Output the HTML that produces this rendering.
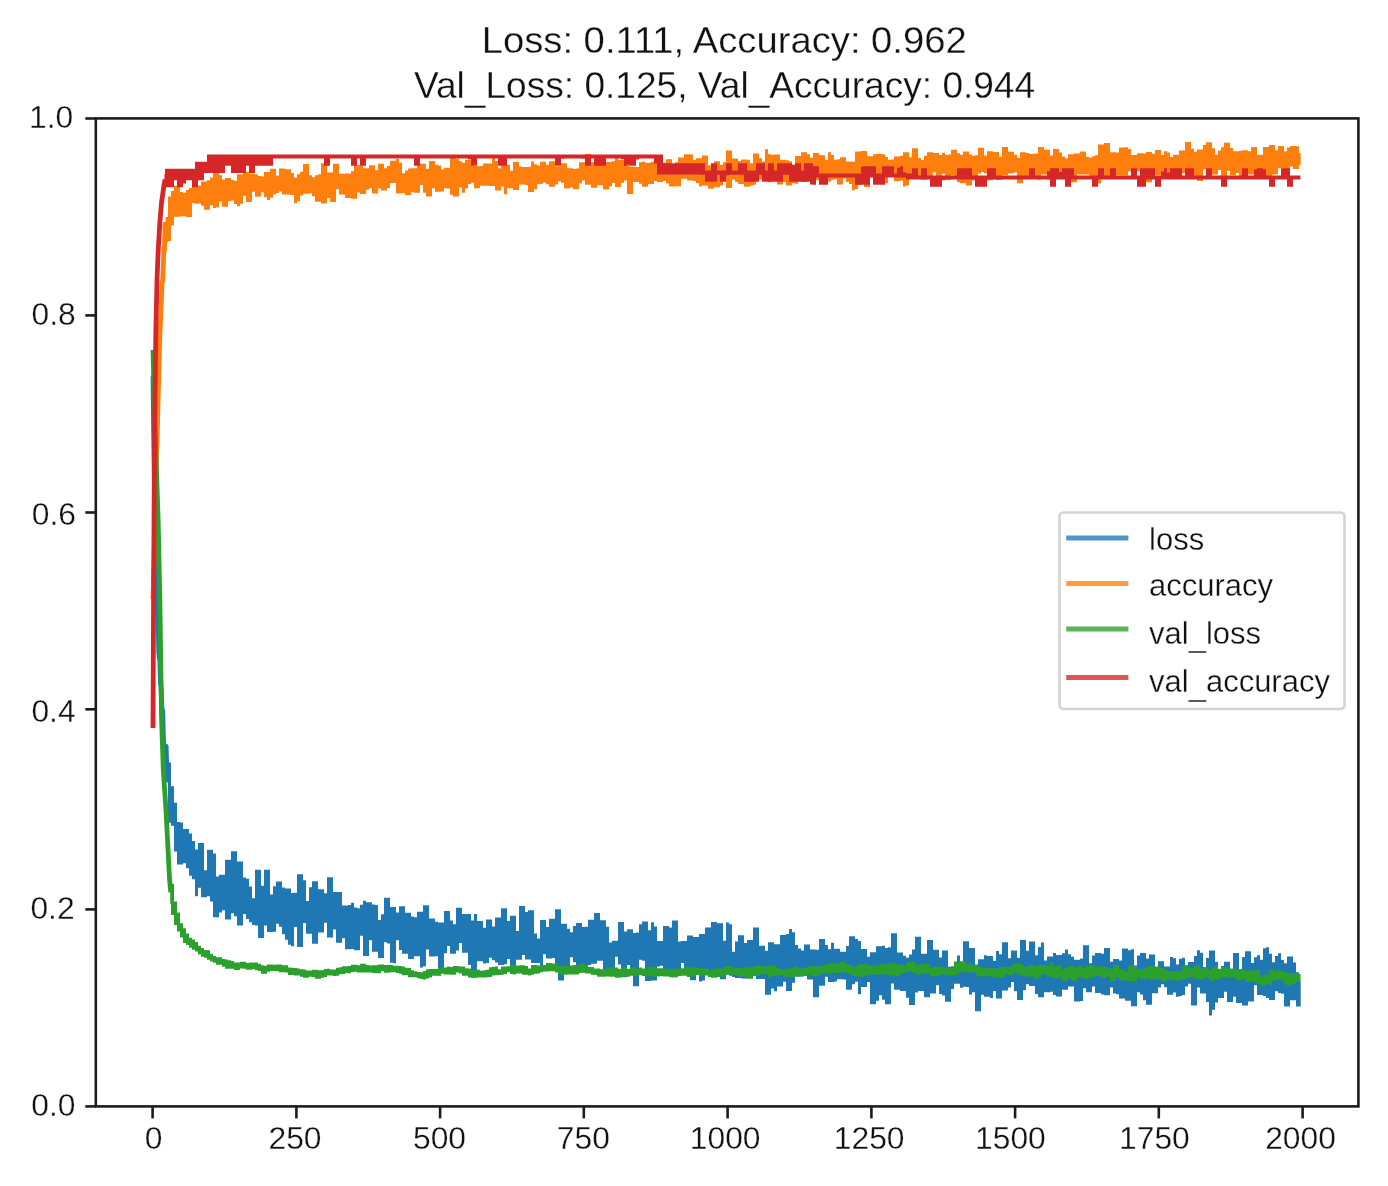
<!DOCTYPE html><html><head><meta charset="utf-8"><style>html,body{margin:0;padding:0;background:#fff;overflow:hidden;width:1388px;height:1186px;}svg{display:block;filter:blur(0.45px);}text{font-family:"Liberation Sans",sans-serif;fill:#111;stroke:#fff;stroke-width:0.3px;paint-order:fill;}</style></head><body>
<svg width="1388" height="1186" viewBox="0 0 1388 1186">
<rect width="1388" height="1186" fill="#fff"/>
<defs><clipPath id="ax"><rect x="95.8" y="118.4" width="1262.6" height="988.0"/></clipPath></defs>
<g clip-path="url(#ax)" stroke="none">
<polyline fill="none" stroke="#1f77b4" stroke-width="4.8" stroke-linejoin="round" points="153.00,375.72 153.57,426.43 154.15,468.05 154.72,504.34 155.29,539.78 155.86,557.63 156.44,575.19 157.01,602.49 157.58,614.84 158.16,617.92 158.73,651.27 159.30,657.56 159.88,660.71 160.45,682.99 161.02,686.96 161.59,699.58 162.17,715.81 162.74,710.21 163.31,734.73 163.89,749.42 164.46,756.66 165.03,749.15 165.61,766.56 166.18,746.42 166.75,767.10 167.32,779.43 167.90,764.80 168.47,782.40"/>
<path fill="#1f77b4" d="M167.90,762.50H168.00V762.50H171.00V786.19H174.00V802.69H177.00V822.00H180.00V822.52H183.00V828.89H186.00V828.89H189.00V833.59H192.00V840.95H195.00V849.38H198.00V843.01H201.00V843.01H204.00V870.33H207.00V849.74H210.00V849.74H213.00V853.40H216.00V876.57H219.00V874.86H222.00V874.86H225.00V859.70H228.00V859.70H231.00V851.35H234.00V851.35H237.00V861.48H240.00V861.48H243.00V877.50H246.00V878.66H249.00V886.60H252.00V898.22H255.00V869.82H258.00V869.82H261.00V885.75H264.00V869.68H267.00V869.68H270.00V894.38H273.00V886.14H276.00V881.59H279.00V881.59H282.00V887.40H285.00V888.57H288.00V888.57H291.00V893.10H294.00V892.85H297.00V874.15H300.00V874.15H303.00V880.35H306.00V900.95H309.00V887.34H312.00V881.25H315.00V881.25H318.00V889.18H321.00V889.18H324.00V893.36H327.00V877.14H330.00V877.14H333.00V892.05H336.00V892.12H339.00V892.12H342.00V905.57H345.00V905.57H348.00V904.98H351.00V902.69H354.00V907.48H357.00V908.37H360.00V904.67H363.00V900.76H366.00V902.15H369.00V902.15H372.00V904.59H375.00V904.94H378.00V920.06H381.00V914.37H384.00V897.67H387.00V897.67H390.00V907.08H393.00V907.08H396.00V912.55H399.00V906.30H402.00V906.30H405.00V912.86H408.00V912.86H411.00V916.43H414.00V917.28H417.00V911.74H420.00V911.74H423.00V905.15H426.00V905.15H429.00V918.62H432.00V918.62H435.00V921.87H438.00V922.44H441.00V922.44H444.00V910.89H447.00V910.89H450.00V920.53H453.00V924.15H456.00V907.71H459.00V907.71H462.00V913.97H465.00V913.97H468.00V914.05H471.00V920.39H474.00V914.12H477.00V920.93H480.00V920.93H483.00V927.66H486.00V919.57H489.00V919.57H492.00V926.45H495.00V917.53H498.00V917.53H501.00V908.21H504.00V908.21H507.00V921.06H510.00V915.71H513.00V915.71H516.00V931.11H519.00V906.04H522.00V906.04H525.00V911.98H528.00V910.17H531.00V910.17H534.00V933.40H537.00V938.43H540.00V920.03H543.00V920.03H546.00V926.90H549.00V918.71H552.00V918.71H555.00V909.15H558.00V909.15H561.00V923.86H564.00V923.86H567.00V928.81H570.00V932.33H573.00V926.02H576.00V923.09H579.00V923.09H582.00V927.04H585.00V926.64H588.00V919.80H591.00V919.80H594.00V912.88H597.00V912.88H600.00V920.13H603.00V920.13H606.00V926.64H609.00V942.38H612.00V940.84H615.00V940.79H618.00V921.92H621.00V921.92H624.00V931.54H627.00V929.13H630.00V929.13H633.00V933.02H636.00V932.39H639.00V924.34H642.00V921.49H645.00V921.49H648.00V930.15H651.00V922.15H654.00V926.44H657.00V941.07H660.00V941.07H663.00V925.95H666.00V925.95H669.00V927.58H672.00V920.52H675.00V920.52H678.00V941.52H681.00V940.92H684.00V940.92H687.00V935.55H690.00V935.55H693.00V936.92H696.00V936.92H699.00V933.92H702.00V933.92H705.00V927.50H708.00V927.50H711.00V921.91H714.00V921.91H717.00V923.37H720.00V923.37H723.00V940.65H726.00V922.57H729.00V924.19H732.00V951.70H735.00V941.47H738.00V935.27H741.00V935.27H744.00V942.99H747.00V940.11H750.00V940.11H753.00V927.47H756.00V927.47H759.00V945.68H762.00V945.68H765.00V950.85H768.00V942.25H771.00V942.25H774.00V944.34H777.00V944.34H780.00V934.89H783.00V934.89H786.00V934.10H789.00V929.10H792.00V932.34H795.00V945.09H798.00V948.52H801.00V950.60H804.00V944.60H807.00V944.60H810.00V949.40H813.00V949.40H816.00V949.80H819.00V938.89H822.00V938.89H825.00V944.89H828.00V949.23H831.00V942.83H834.00V948.65H837.00V948.65H840.00V951.69H843.00V951.69H846.00V946.02H849.00V936.25H852.00V936.25H855.00V938.97H858.00V941.03H861.00V949.02H864.00V949.02H867.00V956.80H870.00V952.15H873.00V952.15H876.00V946.24H879.00V946.24H882.00V945.84H885.00V948.12H888.00V947.20H891.00V933.34H894.00V933.34H897.00V952.52H900.00V952.52H903.00V955.84H906.00V957.63H909.00V954.59H912.00V949.56H915.00V936.77H918.00V936.77H921.00V953.64H924.00V953.64H927.00V940.02H930.00V940.02H933.00V949.83H936.00V949.83H939.00V957.49H942.00V950.61H945.00V950.61H948.00V966.76H951.00V966.14H954.00V961.38H957.00V955.43H960.00V961.73H963.00V941.17H966.00V941.17H969.00V948.05H972.00V948.05H975.00V969.97H978.00V959.34H981.00V959.34H984.00V955.29H987.00V956.05H990.00V956.05H993.00V960.92H996.00V951.04H999.00V954.21H1002.00V942.22H1005.00V942.22H1008.00V958.29H1011.00V950.49H1014.00V950.49H1017.00V957.79H1020.00V939.99H1023.00V939.99H1026.00V950.72H1029.00V941.55H1032.00V941.55H1035.00V955.21H1038.00V947.07H1041.00V942.48H1044.00V960.50H1047.00V956.58H1050.00V956.58H1053.00V952.93H1056.00V955.07H1059.00V955.07H1062.00V953.37H1065.00V949.52H1068.00V954.35H1071.00V956.74H1074.00V959.77H1077.00V959.77H1080.00V958.56H1083.00V945.29H1086.00V945.29H1089.00V963.23H1092.00V955.45H1095.00V953.05H1098.00V953.05H1101.00V953.74H1104.00V948.08H1107.00V948.08H1110.00V961.76H1113.00V958.93H1116.00V958.93H1119.00V960.45H1122.00V948.55H1125.00V948.55H1128.00V950.26H1131.00V949.27H1134.00V965.43H1137.00V955.48H1140.00V953.10H1143.00V953.10H1146.00V958.62H1149.00V954.60H1152.00V954.60H1155.00V969.62H1158.00V961.33H1161.00V961.33H1164.00V966.60H1167.00V966.60H1170.00V956.95H1173.00V958.16H1176.00V964.46H1179.00V958.85H1182.00V957.63H1185.00V965.37H1188.00V961.97H1191.00V961.97H1194.00V955.95H1197.00V950.35H1200.00V952.79H1203.00V971.06H1206.00V958.10H1209.00V950.54H1212.00V950.54H1215.00V961.80H1218.00V969.30H1221.00V965.91H1224.00V961.75H1227.00V961.75H1230.00V969.64H1233.00V952.88H1236.00V952.88H1239.00V969.23H1242.00V956.97H1245.00V951.20H1248.00V951.20H1251.00V963.10H1254.00V957.25H1257.00V955.27H1260.00V959.64H1263.00V948.36H1266.00V947.21H1269.00V953.71H1272.00V962.32H1275.00V956.01H1278.00V953.20H1281.00V960.10H1284.00V963.27H1287.00V956.46H1290.00V956.46H1293.00V962.49H1296.00V972.21H1299.00V981.30H1300.70V1006.49H1299.00V1006.49H1296.00V1000.33H1293.00V1000.33H1290.00V1006.48H1287.00V1006.59H1284.00V993.65H1281.00V993.09H1278.00V991.21H1275.00V999.97H1272.00V999.97H1269.00V997.94H1266.00V995.92H1263.00V995.06H1260.00V995.06H1257.00V985.21H1254.00V1001.59H1251.00V1001.59H1248.00V1005.48H1245.00V1005.48H1242.00V1003.07H1239.00V1003.07H1236.00V996.85H1233.00V1001.98H1230.00V1001.98H1227.00V991.77H1224.00V997.97H1221.00V997.97H1218.00V1002.52H1215.00V1009.64H1212.00V1015.48H1209.00V1002.09H1206.00V993.50H1203.00V993.50H1200.00V987.50H1197.00V1005.54H1194.00V1005.54H1191.00V983.69H1188.00V986.44H1185.00V994.99H1182.00V996.00H1179.00V996.66H1176.00V992.47H1173.00V994.63H1170.00V994.63H1167.00V987.27H1164.00V984.35H1161.00V987.62H1158.00V993.27H1155.00V993.27H1152.00V1004.65H1149.00V1004.65H1146.00V1000.25H1143.00V994.52H1140.00V992.13H1137.00V1006.27H1134.00V1006.27H1131.00V1000.73H1128.00V1000.73H1125.00V998.49H1122.00V998.49H1119.00V994.19H1116.00V993.48H1113.00V987.38H1110.00V995.23H1107.00V995.23H1104.00V994.40H1101.00V993.02H1098.00V993.02H1095.00V986.50H1092.00V992.36H1089.00V992.36H1086.00V988.23H1083.00V1001.02H1080.00V1001.45H1077.00V1001.45H1074.00V986.38H1071.00V986.38H1068.00V989.86H1065.00V989.86H1062.00V996.44H1059.00V996.44H1056.00V994.97H1053.00V991.79H1050.00V992.18H1047.00V992.18H1044.00V997.35H1041.00V997.35H1038.00V994.09H1035.00V986.04H1032.00V986.04H1029.00V984.15H1026.00V990.18H1023.00V999.92H1020.00V999.92H1017.00V991.18H1014.00V982.07H1011.00V987.48H1008.00V990.45H1005.00V990.45H1002.00V998.38H999.00V998.38H996.00V991.02H993.00V998.04H990.00V996.68H987.00V996.68H984.00V994.87H981.00V1011.15H978.00V1011.15H975.00V992.33H972.00V994.38H969.00V986.93H966.00V986.69H963.00V987.67H960.00V983.85H957.00V983.76H954.00V988.92H951.00V1001.63H948.00V1001.63H945.00V995.40H942.00V994.06H939.00V985.34H936.00V993.48H933.00V993.48H930.00V997.22H927.00V997.22H924.00V991.07H921.00V991.07H918.00V992.60H915.00V1005.11H912.00V1005.11H909.00V997.79H906.00V991.01H903.00V991.01H900.00V989.75H897.00V989.75H894.00V983.41H891.00V1004.20H888.00V1004.20H885.00V999.77H882.00V995.22H879.00V1000.87H876.00V1004.33H873.00V1004.33H870.00V982.09H867.00V986.98H864.00V986.98H861.00V994.32H858.00V981.82H855.00V984.32H852.00V989.84H849.00V989.84H846.00V979.41H843.00V979.31H840.00V979.31H837.00V981.53H834.00V981.95H831.00V981.95H828.00V976.85H825.00V985.79H822.00V985.79H819.00V997.16H816.00V997.18H813.00V979.40H810.00V979.40H807.00V970.90H804.00V976.60H801.00V976.70H798.00V976.70H795.00V982.73H792.00V990.91H789.00V990.91H786.00V981.83H783.00V986.43H780.00V986.43H777.00V991.30H774.00V988.48H771.00V994.76H768.00V994.76H765.00V978.97H762.00V978.97H759.00V978.93H756.00V973.99H753.00V973.99H750.00V969.09H747.00V978.62H744.00V978.62H741.00V978.03H738.00V978.03H735.00V976.89H732.00V975.74H729.00V974.27H726.00V979.15H723.00V979.15H720.00V972.47H717.00V974.24H714.00V970.68H711.00V973.99H708.00V969.79H705.00V980.61H702.00V981.60H699.00V974.67H696.00V980.23H693.00V980.23H690.00V975.02H687.00V975.02H684.00V962.95H681.00V968.99H678.00V977.18H675.00V977.18H672.00V973.87H669.00V969.93H666.00V969.93H663.00V965.63H660.00V966.44H657.00V980.55H654.00V980.55H651.00V981.00H648.00V981.00H645.00V960.71H642.00V959.77H639.00V986.28H636.00V986.28H633.00V971.08H630.00V964.93H627.00V977.31H624.00V977.31H621.00V964.55H618.00V956.84H615.00V972.45H612.00V973.70H609.00V973.08H606.00V970.18H603.00V960.66H600.00V960.66H597.00V963.83H594.00V963.83H591.00V964.99H588.00V969.65H585.00V969.65H582.00V970.89H579.00V970.89H576.00V962.19H573.00V957.33H570.00V969.87H567.00V969.87H564.00V980.56H561.00V980.56H558.00V965.96H555.00V958.00H552.00V958.49H549.00V958.49H546.00V954.18H543.00V967.13H540.00V963.00H537.00V962.93H534.00V962.93H531.00V959.55H528.00V959.55H525.00V955.00H522.00V959.83H519.00V959.83H516.00V965.91H513.00V965.91H510.00V958.95H507.00V964.17H504.00V965.00H501.00V965.00H498.00V962.52H495.00V960.27H492.00V957.75H489.00V962.93H486.00V963.52H483.00V961.35H480.00V961.35H477.00V977.67H474.00V977.67H471.00V964.88H468.00V952.85H465.00V952.85H462.00V942.90H459.00V950.54H456.00V953.64H453.00V953.64H450.00V945.90H447.00V953.26H444.00V970.35H441.00V975.43H438.00V956.14H435.00V956.48H432.00V956.48H429.00V949.44H426.00V966.23H423.00V967.47H420.00V956.35H417.00V956.35H414.00V958.92H411.00V958.92H408.00V953.68H405.00V953.68H402.00V949.98H399.00V940.25H396.00V963.35H393.00V962.63H390.00V943.41H387.00V942.23H384.00V957.90H381.00V957.90H378.00V951.76H375.00V951.76H372.00V940.23H369.00V956.08H366.00V956.08H363.00V935.82H360.00V950.28H357.00V950.28H354.00V948.93H351.00V949.35H348.00V949.35H345.00V938.22H342.00V942.72H339.00V942.72H336.00V929.59H333.00V937.43H330.00V937.43H327.00V922.68H324.00V932.46H321.00V932.46H318.00V943.72H315.00V943.72H312.00V933.72H309.00V933.72H306.00V923.07H303.00V946.96H300.00V946.96H297.00V927.06H294.00V946.32H291.00V944.66H288.00V939.71H285.00V934.34H282.00V926.85H279.00V923.73H276.00V931.77H273.00V932.00H270.00V932.00H267.00V925.56H264.00V937.89H261.00V937.89H258.00V925.38H255.00V925.07H252.00V922.30H249.00V919.12H246.00V914.07H243.00V925.60H240.00V925.60H237.00V916.35H234.00V913.22H231.00V919.49H228.00V919.49H225.00V910.15H222.00V912.39H219.00V917.30H216.00V917.30H213.00V901.60H210.00V896.20H207.00V897.30H204.00V897.30H201.00V887.87H198.00V896.25H195.00V879.22H192.00V875.83H189.00V868.21H186.00V863.27H183.00V864.52H180.00V864.52H177.00V851.49H174.00V825.67H171.00V822.82H168.00V812.68H167.90Z"/>
<polyline fill="none" stroke="#ff7f0e" stroke-width="4.8" stroke-linejoin="round" points="153.00,599.18 153.57,576.50 154.15,556.36 154.72,529.14 155.29,504.99 155.86,479.81 156.44,458.63 157.01,441.28 157.58,421.10 158.16,397.50 158.73,375.84 159.30,353.84 159.88,335.13 160.45,321.57 161.02,308.28 161.59,295.76 162.17,281.67 162.74,280.38 163.31,265.47 163.89,247.10 164.46,250.84 165.03,224.25 165.61,238.91 166.18,237.35"/>
<path fill="#ff7f0e" d="M165.61,216.99H168.00V196.62H171.00V190.99H174.00V185.84H177.00V185.84H180.00V192.09H183.00V192.68H186.00V189.94H189.00V187.88H192.00V178.23H195.00V181.28H198.00V185.56H201.00V181.47H204.00V181.47H207.00V180.35H210.00V177.47H213.00V172.57H216.00V172.57H219.00V175.30H222.00V179.49H225.00V178.06H228.00V178.06H231.00V179.99H234.00V180.70H237.00V174.13H240.00V174.13H243.00V171.64H246.00V171.64H249.00V173.42H252.00V173.42H255.00V174.62H258.00V176.03H261.00V176.48H264.00V172.05H267.00V172.05H270.00V168.74H273.00V168.74H276.00V175.46H279.00V168.59H282.00V168.59H285.00V169.22H288.00V169.22H291.00V172.98H294.00V177.40H297.00V174.31H300.00V171.72H303.00V163.96H306.00V163.96H309.00V175.30H312.00V177.26H315.00V175.30H318.00V174.34H321.00V163.24H324.00V163.24H327.00V172.43H330.00V172.43H333.00V163.85H336.00V163.85H339.00V173.87H342.00V173.87H345.00V173.48H348.00V173.48H351.00V171.29H354.00V165.06H357.00V165.06H360.00V165.74H363.00V168.32H366.00V168.32H369.00V165.13H372.00V165.13H375.00V170.18H378.00V163.69H381.00V163.69H384.00V168.18H387.00V166.09H390.00V160.70H393.00V160.70H396.00V158.99H399.00V162.85H402.00V173.25H405.00V170.57H408.00V168.58H411.00V168.28H414.00V168.28H417.00V163.81H420.00V163.75H423.00V163.75H426.00V168.63H429.00V161.02H432.00V161.02H435.00V164.84H438.00V165.49H441.00V169.57H444.00V167.87H447.00V167.97H450.00V156.12H453.00V156.12H456.00V158.78H459.00V161.25H462.00V162.78H465.00V159.73H468.00V159.73H471.00V161.35H474.00V162.61H477.00V166.23H480.00V165.94H483.00V163.54H486.00V163.54H489.00V163.42H492.00V156.80H495.00V160.88H498.00V168.24H501.00V163.34H504.00V163.34H507.00V164.67H510.00V170.66H513.00V161.90H516.00V161.90H519.00V166.59H522.00V167.10H525.00V167.10H528.00V166.78H531.00V161.47H534.00V164.36H537.00V165.54H540.00V161.82H543.00V161.82H546.00V164.67H549.00V161.28H552.00V161.28H555.00V166.17H558.00V166.17H561.00V163.22H564.00V163.22H567.00V168.32H570.00V168.32H573.00V169.10H576.00V168.40H579.00V162.14H582.00V162.14H585.00V154.01H588.00V154.01H591.00V162.36H594.00V162.15H597.00V161.42H600.00V161.30H603.00V161.30H606.00V161.88H609.00V161.79H612.00V161.16H615.00V156.50H618.00V159.65H621.00V160.08H624.00V156.97H627.00V156.97H630.00V166.73H633.00V166.73H636.00V166.98H639.00V162.19H642.00V161.67H645.00V162.73H648.00V162.73H651.00V161.71H654.00V155.57H657.00V165.49H660.00V162.64H663.00V162.64H666.00V159.29H669.00V159.29H672.00V163.98H675.00V162.23H678.00V157.39H681.00V157.39H684.00V154.30H687.00V154.30H690.00V154.60H693.00V159.96H696.00V158.32H699.00V158.32H702.00V155.58H705.00V155.58H708.00V165.43H711.00V164.79H714.00V161.37H717.00V161.37H720.00V164.63H723.00V162.16H726.00V150.40H729.00V150.40H732.00V158.58H735.00V158.58H738.00V160.91H741.00V159.60H744.00V159.60H747.00V159.74H750.00V163.28H753.00V153.57H756.00V153.57H759.00V158.14H762.00V161.56H765.00V149.18H768.00V154.26H771.00V154.81H774.00V154.62H777.00V154.62H780.00V159.76H783.00V159.76H786.00V160.28H789.00V161.18H792.00V164.38H795.00V156.01H798.00V156.01H801.00V152.19H804.00V152.19H807.00V154.19H810.00V157.85H813.00V153.06H816.00V153.06H819.00V155.35H822.00V155.35H825.00V159.92H828.00V152.19H831.00V154.91H834.00V159.77H837.00V159.36H840.00V157.26H843.00V157.26H846.00V161.41H849.00V161.41H852.00V161.84H855.00V151.43H858.00V151.43H861.00V151.03H864.00V151.03H867.00V156.13H870.00V156.13H873.00V154.28H876.00V154.12H879.00V154.12H882.00V154.22H885.00V157.09H888.00V159.73H891.00V159.55H894.00V156.39H897.00V156.39H900.00V155.82H903.00V152.27H906.00V152.27H909.00V157.32H912.00V148.36H915.00V148.36H918.00V157.96H921.00V159.93H924.00V155.83H927.00V152.31H930.00V152.31H933.00V153.08H936.00V153.08H939.00V155.11H942.00V152.87H945.00V155.09H948.00V154.49H951.00V149.73H954.00V149.73H957.00V153.28H960.00V154.66H963.00V151.53H966.00V151.53H969.00V154.52H972.00V155.67H975.00V155.19H978.00V147.78H981.00V147.78H984.00V155.41H987.00V151.35H990.00V151.35H993.00V151.91H996.00V151.91H999.00V156.65H1002.00V146.97H1005.00V146.97H1008.00V151.80H1011.00V151.80H1014.00V154.74H1017.00V157.75H1020.00V152.29H1023.00V152.29H1026.00V152.99H1029.00V153.97H1032.00V153.67H1035.00V153.51H1038.00V146.99H1041.00V146.99H1044.00V149.64H1047.00V149.64H1050.00V155.61H1053.00V149.06H1056.00V149.06H1059.00V152.50H1062.00V156.46H1065.00V158.35H1068.00V154.13H1071.00V154.13H1074.00V153.51H1077.00V153.51H1080.00V151.44H1083.00V151.44H1086.00V156.95H1089.00V157.74H1092.00V156.19H1095.00V155.25H1098.00V144.44H1101.00V144.44H1104.00V142.88H1107.00V142.88H1110.00V152.21H1113.00V152.21H1116.00V152.40H1119.00V147.50H1122.00V147.50H1125.00V147.27H1128.00V149.06H1131.00V154.92H1134.00V154.92H1137.00V153.13H1140.00V153.13H1143.00V153.59H1146.00V151.95H1149.00V151.95H1152.00V153.82H1155.00V149.96H1158.00V149.96H1161.00V155.11H1164.00V151.22H1167.00V152.54H1170.00V157.00H1173.00V154.84H1176.00V154.69H1179.00V150.61H1182.00V150.40H1185.00V142.10H1188.00V142.10H1191.00V148.74H1194.00V151.87H1197.00V149.38H1200.00V149.38H1203.00V144.93H1206.00V142.20H1209.00V142.20H1212.00V148.24H1215.00V154.63H1218.00V150.57H1221.00V147.36H1224.00V142.75H1227.00V142.75H1230.00V148.07H1233.00V151.14H1236.00V151.14H1239.00V150.81H1242.00V150.25H1245.00V150.25H1248.00V151.27H1251.00V147.34H1254.00V146.95H1257.00V154.77H1260.00V154.76H1263.00V146.94H1266.00V146.94H1269.00V145.05H1272.00V145.05H1275.00V150.17H1278.00V146.09H1281.00V146.09H1284.00V151.37H1287.00V147.52H1290.00V145.91H1293.00V145.91H1296.00V146.30H1299.00V153.35H1300.70V165.05H1299.00V168.88H1296.00V168.88H1293.00V166.62H1290.00V177.89H1287.00V177.89H1284.00V170.11H1281.00V168.15H1278.00V174.27H1275.00V174.60H1272.00V176.32H1269.00V176.32H1266.00V171.01H1263.00V171.01H1260.00V170.92H1257.00V170.92H1254.00V174.56H1251.00V174.56H1248.00V173.07H1245.00V176.20H1242.00V176.20H1239.00V172.97H1236.00V175.20H1233.00V175.20H1230.00V170.84H1227.00V176.36H1224.00V176.36H1221.00V169.92H1218.00V174.57H1215.00V174.57H1212.00V172.68H1209.00V168.73H1206.00V169.13H1203.00V181.00H1200.00V181.00H1197.00V176.39H1194.00V176.95H1191.00V176.95H1188.00V173.13H1185.00V173.13H1182.00V173.06H1179.00V170.94H1176.00V172.99H1173.00V170.66H1170.00V176.11H1167.00V175.26H1164.00V174.19H1161.00V175.08H1158.00V175.08H1155.00V169.32H1152.00V182.30H1149.00V182.30H1146.00V177.74H1143.00V170.08H1140.00V171.31H1137.00V175.57H1134.00V175.57H1131.00V171.61H1128.00V175.38H1125.00V175.38H1122.00V175.32H1119.00V175.32H1116.00V170.46H1113.00V175.37H1110.00V176.81H1107.00V176.81H1104.00V175.61H1101.00V183.60H1098.00V183.60H1095.00V177.47H1092.00V175.69H1089.00V174.45H1086.00V174.45H1083.00V174.59H1080.00V174.59H1077.00V182.18H1074.00V182.18H1071.00V184.96H1068.00V184.96H1065.00V176.99H1062.00V172.62H1059.00V170.03H1056.00V178.14H1053.00V179.32H1050.00V179.32H1047.00V174.61H1044.00V174.61H1041.00V179.76H1038.00V176.40H1035.00V173.04H1032.00V171.66H1029.00V178.86H1026.00V178.86H1023.00V183.35H1020.00V183.35H1017.00V172.44H1014.00V173.54H1011.00V173.54H1008.00V175.33H1005.00V175.33H1002.00V180.07H999.00V180.07H996.00V176.29H993.00V180.36H990.00V180.36H987.00V173.47H984.00V172.07H981.00V173.45H978.00V180.54H975.00V180.54H972.00V185.50H969.00V185.50H966.00V183.29H963.00V183.29H960.00V182.13H957.00V176.39H954.00V175.32H951.00V180.05H948.00V180.05H945.00V173.67H942.00V182.04H939.00V182.04H936.00V172.15H933.00V178.59H930.00V178.59H927.00V179.67H924.00V179.67H921.00V177.26H918.00V177.50H915.00V171.99H912.00V173.95H909.00V185.50H906.00V186.44H903.00V180.70H900.00V181.20H897.00V181.20H894.00V176.89H891.00V175.95H888.00V183.14H885.00V183.14H882.00V177.68H879.00V182.21H876.00V182.21H873.00V177.20H870.00V187.00H867.00V187.00H864.00V183.78H861.00V185.01H858.00V189.10H855.00V190.31H852.00V183.90H849.00V182.00H846.00V178.29H843.00V184.41H840.00V184.41H837.00V179.22H834.00V179.84H831.00V181.66H828.00V181.66H825.00V176.30H822.00V179.14H819.00V180.14H816.00V180.24H813.00V180.24H810.00V176.66H807.00V181.89H804.00V181.89H801.00V180.20H798.00V183.71H795.00V183.23H792.00V185.62H789.00V185.62H786.00V182.08H783.00V184.50H780.00V184.50H777.00V181.03H774.00V181.03H771.00V182.23H768.00V178.62H765.00V179.52H762.00V179.52H759.00V175.14H756.00V184.80H753.00V185.70H750.00V186.73H747.00V186.73H744.00V184.10H741.00V184.10H738.00V181.91H735.00V179.39H732.00V188.10H729.00V188.10H726.00V180.53H723.00V185.49H720.00V187.14H717.00V187.14H714.00V188.69H711.00V188.69H708.00V185.70H705.00V185.49H702.00V186.47H699.00V183.27H696.00V181.00H693.00V180.42H690.00V180.42H687.00V178.78H684.00V178.78H681.00V186.23H678.00V186.23H675.00V186.52H672.00V186.52H669.00V183.53H666.00V181.01H663.00V182.02H660.00V182.02H657.00V181.04H654.00V184.08H651.00V184.08H648.00V186.80H645.00V186.80H642.00V183.79H639.00V182.08H636.00V182.08H633.00V194.07H630.00V194.07H627.00V180.58H624.00V182.79H621.00V187.05H618.00V187.05H615.00V183.02H612.00V186.21H609.00V189.49H606.00V189.49H603.00V185.13H600.00V185.13H597.00V187.67H594.00V187.67H591.00V184.79H588.00V184.79H585.00V180.52H582.00V183.49H579.00V189.24H576.00V189.24H573.00V187.53H570.00V188.39H567.00V188.39H564.00V182.67H561.00V181.38H558.00V184.44H555.00V186.71H552.00V186.71H549.00V184.18H546.00V182.53H543.00V183.70H540.00V184.02H537.00V189.27H534.00V192.07H531.00V192.07H528.00V185.09H525.00V184.55H522.00V184.55H519.00V190.06H516.00V190.06H513.00V188.28H510.00V188.28H507.00V194.15H504.00V186.57H501.00V190.45H498.00V190.45H495.00V186.05H492.00V186.05H489.00V185.79H486.00V185.86H483.00V185.86H480.00V188.16H477.00V188.16H474.00V182.76H471.00V183.91H468.00V188.62H465.00V192.71H462.00V187.52H459.00V196.51H456.00V196.51H453.00V194.78H450.00V188.42H447.00V188.16H444.00V191.38H441.00V191.82H438.00V191.82H435.00V188.28H432.00V196.43H429.00V196.43H426.00V192.69H423.00V184.88H420.00V192.84H417.00V192.84H414.00V192.03H411.00V195.29H408.00V195.29H405.00V193.15H402.00V193.47H399.00V193.47H396.00V183.04H393.00V183.33H390.00V187.94H387.00V190.43H384.00V190.43H381.00V188.45H378.00V193.41H375.00V193.41H372.00V188.32H369.00V189.64H366.00V194.04H363.00V194.04H360.00V192.48H357.00V198.70H354.00V198.70H351.00V198.02H348.00V198.02H345.00V194.56H342.00V194.51H339.00V189.33H336.00V202.07H333.00V202.07H330.00V197.88H327.00V203.53H324.00V203.53H321.00V201.85H318.00V201.85H315.00V196.23H312.00V193.29H309.00V193.82H306.00V193.82H303.00V195.41H300.00V201.27H297.00V203.22H294.00V195.07H291.00V194.85H288.00V194.60H285.00V194.60H282.00V191.55H279.00V193.06H276.00V194.18H273.00V197.81H270.00V200.04H267.00V197.17H264.00V192.23H261.00V196.86H258.00V196.86H255.00V191.74H252.00V202.03H249.00V202.03H246.00V195.82H243.00V203.87H240.00V206.16H237.00V204.11H234.00V200.43H231.00V201.27H228.00V206.63H225.00V206.63H222.00V201.40H219.00V207.59H216.00V208.08H213.00V205.36H210.00V209.76H207.00V209.76H204.00V205.64H201.00V203.67H198.00V203.67H195.00V203.37H192.00V217.10H189.00V217.10H186.00V216.28H183.00V216.28H180.00V216.70H177.00V216.81H174.00V225.53H171.00V241.37H168.00V242.34H165.61Z"/>
<polyline fill="none" stroke="#2ca02c" stroke-width="4.8" stroke-linejoin="round" points="153.00,350.00 153.57,373.33 154.15,396.63 154.72,420.01 155.29,436.64 155.86,453.31 156.44,470.00 157.01,486.65 157.58,503.23 158.16,519.98 158.73,546.54 159.30,573.49 159.88,599.94 160.45,639.96 161.02,679.90 161.59,720.00 162.17,736.71 162.74,753.31 163.31,769.80 163.89,779.03 164.46,787.59 165.03,795.97 165.61,804.67 166.18,813.72 166.75,824.69 167.32,835.55 167.90,846.72 168.47,858.09 169.04,869.37 169.62,880.06 170.19,886.10 170.76,892.38"/>
<path fill="#2ca02c" d="M170.19,883.95H171.00V883.95H174.00V901.45H177.00V912.56H180.00V923.17H183.00V928.32H186.00V933.52H189.00V937.76H192.00V939.46H195.00V942.12H198.00V945.77H201.00V948.08H204.00V950.04H207.00V950.25H210.00V953.66H213.00V956.03H216.00V957.18H219.00V957.37H222.00V959.10H225.00V959.43H228.00V960.20H231.00V960.93H234.00V962.58H237.00V962.51H240.00V961.71H243.00V961.71H246.00V962.99H249.00V962.52H252.00V962.52H255.00V962.58H258.00V963.80H261.00V965.32H264.00V965.75H267.00V964.60H270.00V964.60H273.00V964.86H276.00V964.38H279.00V964.38H282.00V965.13H285.00V965.13H288.00V967.39H291.00V967.69H294.00V968.03H297.00V968.47H300.00V969.13H303.00V969.40H306.00V970.56H309.00V970.56H312.00V969.67H315.00V969.67H318.00V970.17H321.00V970.17H324.00V968.91H327.00V968.75H330.00V969.42H333.00V969.48H336.00V967.81H339.00V967.30H342.00V966.24H345.00V966.24H348.00V966.04H351.00V964.71H354.00V964.71H357.00V965.31H360.00V963.66H363.00V963.66H366.00V965.11H369.00V965.47H372.00V965.27H375.00V965.27H378.00V964.45H381.00V964.45H384.00V964.89H387.00V965.00H390.00V965.00H393.00V965.72H396.00V965.72H399.00V966.09H402.00V966.50H405.00V967.67H408.00V968.01H411.00V970.22H414.00V971.16H417.00V971.98H420.00V972.24H423.00V971.06H426.00V969.21H429.00V968.92H432.00V968.92H435.00V969.04H438.00V967.97H441.00V967.44H444.00V967.62H447.00V966.56H450.00V966.90H453.00V966.09H456.00V965.91H459.00V966.54H462.00V966.54H465.00V968.36H468.00V968.42H471.00V970.43H474.00V969.85H477.00V969.85H480.00V970.72H483.00V970.15H486.00V969.78H489.00V967.18H492.00V966.74H495.00V966.59H498.00V969.13H501.00V966.44H504.00V966.44H507.00V966.15H510.00V965.36H513.00V965.36H516.00V965.40H519.00V965.17H522.00V965.17H525.00V965.96H528.00V968.57H531.00V965.08H534.00V965.08H537.00V965.44H540.00V964.99H543.00V964.92H546.00V963.06H549.00V963.06H552.00V963.61H555.00V963.61H558.00V966.13H561.00V966.13H564.00V965.90H567.00V965.64H570.00V965.38H573.00V964.96H576.00V964.96H579.00V963.71H582.00V963.71H585.00V965.73H588.00V966.91H591.00V966.91H594.00V968.60H597.00V968.60H600.00V969.13H603.00V969.00H606.00V967.17H609.00V967.17H612.00V967.45H615.00V967.45H618.00V968.67H621.00V967.41H624.00V967.41H627.00V968.77H630.00V967.68H633.00V967.25H636.00V968.46H639.00V967.43H642.00V968.40H645.00V968.40H648.00V966.83H651.00V966.83H654.00V966.96H657.00V968.13H660.00V968.27H663.00V968.64H666.00V968.64H669.00V969.19H672.00V968.87H675.00V968.51H678.00V968.51H681.00V968.17H684.00V966.77H687.00V966.77H690.00V967.23H693.00V967.23H696.00V967.64H699.00V968.12H702.00V968.38H705.00V969.49H708.00V969.48H711.00V969.48H714.00V968.31H717.00V968.31H720.00V968.44H723.00V966.84H726.00V966.10H729.00V966.10H732.00V967.60H735.00V967.60H738.00V968.05H741.00V968.42H744.00V967.49H747.00V967.49H750.00V966.76H753.00V966.54H756.00V965.34H759.00V965.34H762.00V966.45H765.00V966.52H768.00V965.17H771.00V965.17H774.00V966.37H777.00V967.72H780.00V969.30H783.00V969.43H786.00V968.79H789.00V968.24H792.00V967.30H795.00V966.10H798.00V968.50H801.00V967.69H804.00V967.60H807.00V967.11H810.00V966.10H813.00V966.10H816.00V966.57H819.00V965.40H822.00V965.40H825.00V963.96H828.00V963.96H831.00V962.58H834.00V962.98H837.00V963.71H840.00V962.00H843.00V962.00H846.00V963.95H849.00V965.17H852.00V966.93H855.00V966.26H858.00V964.29H861.00V964.21H864.00V963.95H867.00V965.35H870.00V965.32H873.00V965.32H876.00V965.95H879.00V963.93H882.00V963.93H885.00V964.65H888.00V962.72H891.00V962.72H894.00V963.70H897.00V964.15H900.00V964.77H903.00V965.25H906.00V962.85H909.00V961.70H912.00V961.79H915.00V964.41H918.00V964.65H921.00V964.03H924.00V964.04H927.00V964.09H930.00V967.31H933.00V966.49H936.00V966.49H939.00V966.88H942.00V967.11H945.00V967.11H948.00V968.07H951.00V967.51H954.00V962.11H957.00V962.11H960.00V961.29H963.00V961.29H966.00V963.58H969.00V963.58H972.00V965.19H975.00V964.57H978.00V966.16H981.00V967.79H984.00V968.29H987.00V968.29H990.00V968.08H993.00V968.08H996.00V968.65H999.00V966.92H1002.00V967.09H1005.00V966.75H1008.00V966.75H1011.00V964.33H1014.00V963.56H1017.00V963.56H1020.00V963.95H1023.00V966.68H1026.00V966.68H1029.00V964.89H1032.00V964.89H1035.00V965.95H1038.00V964.98H1041.00V964.98H1044.00V965.30H1047.00V965.85H1050.00V962.81H1053.00V966.79H1056.00V965.77H1059.00V965.77H1062.00V969.57H1065.00V967.70H1068.00V965.90H1071.00V965.90H1074.00V967.18H1077.00V965.73H1080.00V965.73H1083.00V968.11H1086.00V966.10H1089.00V964.98H1092.00V964.98H1095.00V966.33H1098.00V966.50H1101.00V966.50H1104.00V966.86H1107.00V968.58H1110.00V968.58H1113.00V965.10H1116.00V965.10H1119.00V969.77H1122.00V969.95H1125.00V971.98H1128.00V965.86H1131.00V965.86H1134.00V966.96H1137.00V969.33H1140.00V968.92H1143.00V968.51H1146.00V966.29H1149.00V966.07H1152.00V966.07H1155.00V966.41H1158.00V966.41H1161.00V967.91H1164.00V969.99H1167.00V971.22H1170.00V971.11H1173.00V971.19H1176.00V970.89H1179.00V971.15H1182.00V966.16H1185.00V966.16H1188.00V967.63H1191.00V968.35H1194.00V965.26H1197.00V965.26H1200.00V968.66H1203.00V966.88H1206.00V966.88H1209.00V969.90H1212.00V967.86H1215.00V966.76H1218.00V968.77H1221.00V966.91H1224.00V967.25H1227.00V968.73H1230.00V968.51H1233.00V968.51H1236.00V969.29H1239.00V970.13H1242.00V969.83H1245.00V970.89H1248.00V970.52H1251.00V970.60H1254.00V969.93H1257.00V969.93H1260.00V976.54H1263.00V974.58H1266.00V974.58H1269.00V970.05H1272.00V970.05H1275.00V971.14H1278.00V969.68H1281.00V971.47H1284.00V971.47H1287.00V973.18H1290.00V972.98H1293.00V972.98H1296.00V973.74H1299.00V973.97H1300.55V982.11H1299.00V982.11H1296.00V984.08H1293.00V984.82H1290.00V986.46H1287.00V984.53H1284.00V980.72H1281.00V979.87H1278.00V979.87H1275.00V980.67H1272.00V985.04H1269.00V984.15H1266.00V985.51H1263.00V985.51H1260.00V983.91H1257.00V982.47H1254.00V981.09H1251.00V981.99H1248.00V981.99H1245.00V979.14H1242.00V980.59H1239.00V980.59H1236.00V977.85H1233.00V977.68H1230.00V977.68H1227.00V976.97H1224.00V976.97H1221.00V978.88H1218.00V978.88H1215.00V980.73H1212.00V980.73H1209.00V977.48H1206.00V978.23H1203.00V979.42H1200.00V979.42H1197.00V978.71H1194.00V976.78H1191.00V977.39H1188.00V978.56H1185.00V979.76H1182.00V979.76H1179.00V980.67H1176.00V980.67H1173.00V979.48H1170.00V979.93H1167.00V981.22H1164.00V981.22H1161.00V979.20H1158.00V979.71H1155.00V979.72H1152.00V979.72H1149.00V978.45H1146.00V979.32H1143.00V979.32H1140.00V976.78H1137.00V981.26H1134.00V981.26H1131.00V981.23H1128.00V981.23H1125.00V980.62H1122.00V980.14H1119.00V977.58H1116.00V981.00H1113.00V981.00H1110.00V976.78H1107.00V977.85H1104.00V977.85H1101.00V976.12H1098.00V976.12H1095.00V977.56H1092.00V977.56H1089.00V978.86H1086.00V978.86H1083.00V977.38H1080.00V977.68H1077.00V980.72H1074.00V980.72H1071.00V978.61H1068.00V980.83H1065.00V980.83H1062.00V977.57H1059.00V978.15H1056.00V978.15H1053.00V977.10H1050.00V977.10H1047.00V974.33H1044.00V974.32H1041.00V977.57H1038.00V979.15H1035.00V976.74H1032.00V976.74H1029.00V976.70H1026.00V975.71H1023.00V975.71H1020.00V973.87H1017.00V972.42H1014.00V974.67H1011.00V975.08H1008.00V973.67H1005.00V977.56H1002.00V977.56H999.00V977.48H996.00V977.81H993.00V976.48H990.00V975.94H987.00V976.61H984.00V976.61H981.00V976.51H978.00V974.66H975.00V972.15H972.00V972.85H969.00V972.46H966.00V972.46H963.00V972.11H960.00V973.11H957.00V975.04H954.00V975.04H951.00V975.84H948.00V975.49H945.00V974.37H942.00V974.37H939.00V976.27H936.00V976.57H933.00V976.21H930.00V973.87H927.00V973.87H924.00V973.29H921.00V974.54H918.00V974.59H915.00V972.66H912.00V971.85H909.00V972.13H906.00V973.05H903.00V973.05H900.00V976.48H897.00V976.48H894.00V975.13H891.00V975.13H888.00V974.13H885.00V974.37H882.00V974.42H879.00V974.50H876.00V974.50H873.00V973.98H870.00V975.57H867.00V975.57H864.00V976.83H861.00V976.83H858.00V975.90H855.00V975.90H852.00V973.80H849.00V973.75H846.00V972.54H843.00V972.36H840.00V973.07H837.00V973.07H834.00V972.19H831.00V973.76H828.00V973.76H825.00V973.27H822.00V973.71H819.00V975.98H816.00V976.14H813.00V976.14H810.00V974.38H807.00V975.89H804.00V976.35H801.00V976.35H798.00V975.65H795.00V976.92H792.00V976.92H789.00V976.87H786.00V976.87H783.00V975.29H780.00V975.14H777.00V975.58H774.00V975.99H771.00V977.23H768.00V974.78H765.00V974.10H762.00V974.10H759.00V976.02H756.00V976.02H753.00V978.79H750.00V978.79H747.00V976.44H744.00V976.14H741.00V976.14H738.00V975.49H735.00V975.49H732.00V974.10H729.00V974.83H726.00V974.94H723.00V976.78H720.00V976.91H717.00V977.85H714.00V977.85H711.00V977.06H708.00V975.54H705.00V975.54H702.00V975.38H699.00V974.69H696.00V975.60H693.00V976.89H690.00V976.89H687.00V975.64H684.00V975.76H681.00V976.06H678.00V976.89H675.00V977.20H672.00V977.20H669.00V976.40H666.00V976.40H663.00V976.28H660.00V976.60H657.00V976.60H654.00V976.55H651.00V976.55H648.00V975.56H645.00V976.05H642.00V975.20H639.00V975.53H636.00V975.73H633.00V975.73H630.00V976.75H627.00V976.75H624.00V977.10H621.00V977.73H618.00V977.73H615.00V976.73H612.00V976.73H609.00V976.57H606.00V976.85H603.00V976.85H600.00V976.68H597.00V975.07H594.00V974.71H591.00V973.39H588.00V973.39H585.00V972.86H582.00V972.96H579.00V974.40H576.00V974.40H573.00V974.57H570.00V974.57H567.00V974.84H564.00V974.84H561.00V974.01H558.00V972.47H555.00V971.23H552.00V971.31H549.00V971.56H546.00V971.56H543.00V972.35H540.00V973.50H537.00V973.78H534.00V974.81H531.00V975.45H528.00V974.82H525.00V974.82H522.00V973.43H519.00V973.41H516.00V974.61H513.00V974.05H510.00V972.19H507.00V973.89H504.00V974.79H501.00V975.04H498.00V975.30H495.00V975.42H492.00V977.00H489.00V977.21H486.00V977.42H483.00V977.59H480.00V977.59H477.00V977.45H474.00V977.38H471.00V977.38H468.00V975.75H465.00V975.68H462.00V973.46H459.00V972.53H456.00V974.67H453.00V974.67H450.00V974.56H447.00V974.56H444.00V973.69H441.00V975.84H438.00V975.84H435.00V975.79H432.00V977.55H429.00V978.41H426.00V979.43H423.00V978.90H420.00V978.17H417.00V977.13H414.00V977.35H411.00V977.35H408.00V975.23H405.00V975.23H402.00V973.68H399.00V973.06H396.00V972.32H393.00V972.32H390.00V972.70H387.00V972.70H384.00V971.24H381.00V973.26H378.00V973.26H375.00V973.09H372.00V972.44H369.00V972.58H366.00V972.58H363.00V972.54H360.00V972.54H357.00V971.80H354.00V972.00H351.00V973.31H348.00V973.31H345.00V974.05H342.00V974.36H339.00V975.66H336.00V976.12H333.00V975.53H330.00V975.53H327.00V977.05H324.00V977.72H321.00V978.79H318.00V978.79H315.00V977.31H312.00V976.86H309.00V977.69H306.00V977.69H303.00V976.70H300.00V975.50H297.00V975.50H294.00V974.99H291.00V974.97H288.00V972.48H285.00V972.18H282.00V972.18H279.00V971.19H276.00V971.12H273.00V971.06H270.00V971.77H267.00V973.65H264.00V973.65H261.00V970.95H258.00V970.19H255.00V969.22H252.00V969.67H249.00V969.67H246.00V968.85H243.00V968.38H240.00V969.89H237.00V969.89H234.00V968.69H231.00V968.71H228.00V968.71H225.00V966.70H222.00V964.68H219.00V964.68H216.00V962.76H213.00V961.46H210.00V959.84H207.00V957.82H204.00V956.64H201.00V954.43H198.00V951.59H195.00V949.77H192.00V947.75H189.00V944.89H186.00V942.89H183.00V937.44H180.00V931.47H177.00V925.12H174.00V914.99H171.00V903.73H170.19Z"/>
<polyline fill="none" stroke="#d62728" stroke-width="4.8" stroke-linejoin="round" points="153.00,728.00 153.57,600.00 154.15,500.00 154.72,420.00 155.29,375.00 155.86,330.00 156.44,305.00 157.01,280.00 157.58,265.50 158.16,251.00 158.73,241.33 159.30,231.67 159.88,222.00 160.45,215.33 161.02,208.67 161.59,202.00 162.17,198.00 162.74,194.00 163.31,190.00 163.89,186.00 164.46,182.67 165.03,179.33"/>
<path fill="#d62728" d="M164.46,173.95H165.00V168.85H168.00V168.85H171.00V168.85H174.00V168.85H177.00V168.85H180.00V168.85H183.00V168.85H186.00V168.85H189.00V168.85H192.00V168.85H195.00V161.65H198.00V161.65H201.00V161.65H204.00V161.65H207.00V154.45H210.00V154.45H213.00V154.45H216.00V154.45H219.00V154.45H222.00V154.45H225.00V154.45H228.00V154.45H231.00V154.45H234.00V154.45H237.00V154.45H240.00V154.45H243.00V154.45H246.00V154.45H249.00V154.45H252.00V154.45H255.00V154.45H258.00V154.45H261.00V154.45H264.00V154.45H267.00V154.45H270.00V154.45H273.00V154.45H276.00V154.45H279.00V154.45H282.00V154.45H285.00V154.45H288.00V154.45H291.00V154.45H294.00V154.45H297.00V154.45H300.00V154.45H303.00V154.45H306.00V154.45H309.00V154.45H312.00V154.45H315.00V154.45H318.00V154.45H321.00V154.45H324.00V154.45H327.00V154.45H330.00V154.45H333.00V154.45H336.00V154.45H339.00V154.45H342.00V154.45H345.00V154.45H348.00V154.45H351.00V154.45H354.00V154.45H357.00V154.45H360.00V154.45H363.00V154.45H366.00V154.45H369.00V154.45H372.00V154.45H375.00V154.45H378.00V154.45H381.00V154.45H384.00V154.45H387.00V154.45H390.00V154.45H393.00V154.45H396.00V154.45H399.00V154.45H402.00V154.45H405.00V154.45H408.00V154.45H411.00V154.45H414.00V154.45H417.00V154.45H420.00V154.45H423.00V154.45H426.00V154.45H429.00V154.45H432.00V154.45H435.00V154.45H438.00V154.45H441.00V154.45H444.00V154.45H447.00V154.45H450.00V154.45H453.00V154.45H456.00V154.45H459.00V154.45H462.00V154.45H465.00V154.45H468.00V154.45H471.00V154.45H474.00V154.45H477.00V154.45H480.00V154.45H483.00V154.45H486.00V154.45H489.00V154.45H492.00V154.45H495.00V154.45H498.00V154.45H501.00V154.45H504.00V154.45H507.00V154.45H510.00V154.45H513.00V154.45H516.00V154.45H519.00V154.45H522.00V154.45H525.00V154.45H528.00V154.45H531.00V154.45H534.00V154.45H537.00V154.45H540.00V154.45H543.00V154.45H546.00V154.45H549.00V154.45H552.00V154.45H555.00V154.45H558.00V154.45H561.00V154.45H564.00V154.45H567.00V154.45H570.00V154.45H573.00V154.45H576.00V154.45H579.00V154.45H582.00V154.45H585.00V154.45H588.00V154.45H591.00V154.45H594.00V154.45H597.00V154.45H600.00V154.45H603.00V154.45H606.00V154.45H609.00V154.45H612.00V154.45H615.00V154.45H618.00V154.45H621.00V154.45H624.00V154.45H627.00V154.45H630.00V154.45H633.00V154.45H636.00V154.45H639.00V154.45H642.00V154.45H645.00V154.45H648.00V154.45H651.00V154.45H654.00V154.45H657.00V154.45H660.00V154.45H663.00V163.15H666.00V163.15H669.00V163.15H672.00V163.15H675.00V163.15H678.00V163.15H681.00V163.15H684.00V163.15H687.00V163.15H690.00V163.15H693.00V163.15H696.00V163.15H699.00V163.15H702.00V163.15H705.00V170.55H708.00V170.55H711.00V163.35H714.00V163.35H717.00V170.55H720.00V170.55H723.00V170.55H726.00V163.35H729.00V163.35H732.00V170.55H735.00V170.55H738.00V163.35H741.00V163.35H744.00V163.35H747.00V170.55H750.00V170.55H753.00V170.55H756.00V163.35H759.00V163.35H762.00V163.35H765.00V170.55H768.00V163.35H771.00V163.35H774.00V170.55H777.00V163.35H780.00V163.35H783.00V163.35H786.00V163.35H789.00V163.35H792.00V165.01H795.00V163.35H798.00V163.35H801.00V170.55H804.00V163.35H807.00V163.35H810.00V163.35H813.00V166.25H816.00V166.25H819.00V173.45H822.00V173.45H825.00V173.45H828.00V173.45H831.00V173.45H834.00V173.45H837.00V173.45H840.00V173.45H843.00V173.45H846.00V173.45H849.00V173.45H852.00V173.45H855.00V173.45H858.00V173.45H861.00V166.53H864.00V166.25H867.00V166.25H870.00V166.25H873.00V166.25H876.00V173.45H879.00V173.45H882.00V166.25H885.00V166.25H888.00V166.25H891.00V166.25H894.00V173.45H897.00V167.76H900.00V166.25H903.00V172.28H906.00V173.45H909.00V173.45H912.00V168.25H915.00V168.25H918.00V175.45H921.00V168.25H924.00V168.25H927.00V175.45H930.00V175.45H933.00V175.45H936.00V175.45H939.00V175.45H942.00V175.45H945.00V175.45H948.00V175.45H951.00V175.45H954.00V175.45H957.00V168.25H960.00V168.25H963.00V168.25H966.00V168.25H969.00V168.25H972.00V175.45H975.00V175.45H978.00V175.45H981.00V175.45H984.00V175.45H987.00V168.25H990.00V168.25H993.00V168.25H996.00V175.45H999.00V175.45H1002.00V175.45H1005.00V175.45H1008.00V175.45H1011.00V175.45H1014.00V175.45H1017.00V175.45H1020.00V175.45H1023.00V175.45H1026.00V175.45H1029.00V168.25H1032.00V168.25H1035.00V175.45H1038.00V175.45H1041.00V175.45H1044.00V175.45H1047.00V171.30H1050.00V168.25H1053.00V168.25H1056.00V168.25H1059.00V171.71H1062.00V168.25H1065.00V168.25H1068.00V168.25H1071.00V168.25H1074.00V175.45H1077.00V175.45H1080.00V175.45H1083.00V175.45H1086.00V175.45H1089.00V175.45H1092.00V175.45H1095.00V175.45H1098.00V168.25H1101.00V168.25H1104.00V175.45H1107.00V175.45H1110.00V168.25H1113.00V168.25H1116.00V175.45H1119.00V175.45H1122.00V175.45H1125.00V175.45H1128.00V175.45H1131.00V168.25H1134.00V168.25H1137.00V175.45H1140.00V168.25H1143.00V168.25H1146.00V168.25H1149.00V168.25H1152.00V168.25H1155.00V175.45H1158.00V175.45H1161.00V171.61H1164.00V168.25H1167.00V172.43H1170.00V168.25H1173.00V168.25H1176.00V168.25H1179.00V168.25H1182.00V175.45H1185.00V168.25H1188.00V168.25H1191.00V168.25H1194.00V175.45H1197.00V175.45H1200.00V175.45H1203.00V175.45H1206.00V168.25H1209.00V168.25H1212.00V175.45H1215.00V175.45H1218.00V175.45H1221.00V175.45H1224.00V175.45H1227.00V175.45H1230.00V175.45H1233.00V175.45H1236.00V175.45H1239.00V175.45H1242.00V168.25H1245.00V168.25H1248.00V175.45H1251.00V175.45H1254.00V169.39H1257.00V168.25H1260.00V168.25H1263.00V169.14H1266.00V175.45H1269.00V175.45H1272.00V175.45H1275.00V175.45H1278.00V175.45H1281.00V168.52H1284.00V168.25H1287.00V168.32H1290.00V175.45H1293.00V175.45H1296.00V175.45H1299.00V175.45H1300.45V179.55H1299.00V179.55H1296.00V179.55H1293.00V186.75H1290.00V186.75H1287.00V179.55H1284.00V179.55H1281.00V179.55H1278.00V179.55H1275.00V186.75H1272.00V186.75H1269.00V179.55H1266.00V179.55H1263.00V179.55H1260.00V179.55H1257.00V179.55H1254.00V179.55H1251.00V179.55H1248.00V179.55H1245.00V179.55H1242.00V179.55H1239.00V179.55H1236.00V179.55H1233.00V179.55H1230.00V179.55H1227.00V186.75H1224.00V186.75H1221.00V179.55H1218.00V179.55H1215.00V179.55H1212.00V179.55H1209.00V179.55H1206.00V179.55H1203.00V179.55H1200.00V179.55H1197.00V179.55H1194.00V179.55H1191.00V179.55H1188.00V179.55H1185.00V179.55H1182.00V179.55H1179.00V179.55H1176.00V179.55H1173.00V179.55H1170.00V179.55H1167.00V179.55H1164.00V179.55H1161.00V186.75H1158.00V186.75H1155.00V179.55H1152.00V179.55H1149.00V179.55H1146.00V186.75H1143.00V186.75H1140.00V186.75H1137.00V179.55H1134.00V179.55H1131.00V179.55H1128.00V179.55H1125.00V179.55H1122.00V179.55H1119.00V179.55H1116.00V179.55H1113.00V179.55H1110.00V179.55H1107.00V179.55H1104.00V179.55H1101.00V179.55H1098.00V186.75H1095.00V186.75H1092.00V179.55H1089.00V179.55H1086.00V179.55H1083.00V179.55H1080.00V179.55H1077.00V179.55H1074.00V179.55H1071.00V186.75H1068.00V186.75H1065.00V179.55H1062.00V179.55H1059.00V179.55H1056.00V186.75H1053.00V186.75H1050.00V179.55H1047.00V179.55H1044.00V179.55H1041.00V179.55H1038.00V179.55H1035.00V179.55H1032.00V179.55H1029.00V179.55H1026.00V179.55H1023.00V179.55H1020.00V179.55H1017.00V179.55H1014.00V179.55H1011.00V179.55H1008.00V179.55H1005.00V179.55H1002.00V179.55H999.00V179.55H996.00V179.55H993.00V179.55H990.00V179.55H987.00V186.75H984.00V186.75H981.00V186.75H978.00V186.75H975.00V179.55H972.00V179.55H969.00V179.55H966.00V179.55H963.00V179.55H960.00V179.55H957.00V179.55H954.00V179.55H951.00V179.55H948.00V179.55H945.00V180.26H942.00V186.75H939.00V186.75H936.00V186.75H933.00V186.75H930.00V179.55H927.00V179.55H924.00V179.55H921.00V179.55H918.00V179.55H915.00V179.55H912.00V179.55H909.00V179.55H906.00V177.55H903.00V177.55H900.00V177.55H897.00V177.55H894.00V177.55H891.00V177.55H888.00V177.55H885.00V184.75H882.00V184.75H879.00V184.75H876.00V184.75H873.00V177.55H870.00V184.75H867.00V184.75H864.00V184.75H861.00V184.75H858.00V184.75H855.00V177.55H852.00V177.55H849.00V177.55H846.00V177.55H843.00V177.55H840.00V177.55H837.00V177.55H834.00V177.55H831.00V177.55H828.00V184.75H825.00V184.75H822.00V184.75H819.00V177.55H816.00V184.75H813.00V184.42H810.00V181.85H807.00V181.85H804.00V181.85H801.00V181.85H798.00V181.85H795.00V181.85H792.00V181.85H789.00V174.65H786.00V174.65H783.00V181.85H780.00V181.85H777.00V181.85H774.00V181.85H771.00V181.85H768.00V181.85H765.00V181.85H762.00V174.65H759.00V181.85H756.00V181.85H753.00V181.85H750.00V181.85H747.00V181.85H744.00V174.65H741.00V174.65H738.00V174.65H735.00V174.65H732.00V174.65H729.00V175.16H726.00V181.85H723.00V181.85H720.00V174.65H717.00V181.85H714.00V181.85H711.00V181.85H708.00V181.85H705.00V174.65H702.00V174.65H699.00V174.45H696.00V174.45H693.00V174.45H690.00V174.45H687.00V174.45H684.00V174.45H681.00V174.45H678.00V174.45H675.00V174.45H672.00V174.45H669.00V174.45H666.00V174.45H663.00V174.45H660.00V174.45H657.00V163.56H654.00V158.55H651.00V158.55H648.00V158.55H645.00V158.55H642.00V158.55H639.00V159.58H636.00V165.75H633.00V165.75H630.00V164.67H627.00V165.75H624.00V159.29H621.00V158.55H618.00V158.55H615.00V158.55H612.00V158.55H609.00V158.55H606.00V165.75H603.00V165.75H600.00V165.75H597.00V165.75H594.00V158.55H591.00V165.75H588.00V165.75H585.00V158.83H582.00V158.55H579.00V158.55H576.00V158.55H573.00V158.55H570.00V158.55H567.00V158.55H564.00V158.81H561.00V165.75H558.00V165.75H555.00V158.55H552.00V158.55H549.00V158.55H546.00V158.55H543.00V158.55H540.00V158.55H537.00V158.55H534.00V158.55H531.00V158.55H528.00V158.55H525.00V158.55H522.00V158.55H519.00V158.55H516.00V158.55H513.00V158.55H510.00V158.55H507.00V165.75H504.00V165.75H501.00V165.75H498.00V158.55H495.00V158.55H492.00V158.55H489.00V158.55H486.00V158.55H483.00V158.55H480.00V158.55H477.00V164.83H474.00V165.75H471.00V159.13H468.00V158.55H465.00V158.55H462.00V158.55H459.00V158.55H456.00V158.55H453.00V158.55H450.00V158.55H447.00V158.55H444.00V158.55H441.00V158.55H438.00V158.55H435.00V158.55H432.00V158.55H429.00V158.55H426.00V158.55H423.00V158.55H420.00V165.75H417.00V165.75H414.00V158.55H411.00V158.55H408.00V158.55H405.00V158.55H402.00V158.55H399.00V158.55H396.00V158.55H393.00V158.55H390.00V158.55H387.00V158.55H384.00V158.55H381.00V158.55H378.00V158.55H375.00V158.55H372.00V158.55H369.00V158.55H366.00V165.75H363.00V165.75H360.00V158.55H357.00V165.75H354.00V165.75H351.00V158.55H348.00V158.55H345.00V158.55H342.00V158.55H339.00V158.55H336.00V158.55H333.00V158.55H330.00V165.75H327.00V165.75H324.00V158.55H321.00V158.55H318.00V158.55H315.00V158.55H312.00V158.55H309.00V158.55H306.00V158.55H303.00V158.55H300.00V158.55H297.00V158.55H294.00V158.55H291.00V158.55H288.00V158.55H285.00V158.55H282.00V158.55H279.00V158.55H276.00V158.55H273.00V165.75H270.00V165.75H267.00V165.75H264.00V165.75H261.00V165.75H258.00V165.75H255.00V172.95H252.00V172.95H249.00V165.75H246.00V172.95H243.00V172.95H240.00V172.95H237.00V172.95H234.00V172.95H231.00V165.75H228.00V165.75H225.00V172.95H222.00V172.95H219.00V172.95H216.00V172.95H213.00V172.95H210.00V172.95H207.00V172.95H204.00V180.15H201.00V180.15H198.00V187.35H195.00V187.35H192.00V180.15H189.00V180.15H186.00V183.56H183.00V187.35H180.00V187.35H177.00V180.15H174.00V187.35H171.00V187.35H168.00V187.35H165.00V187.35H164.46Z"/>
</g>
<rect x="95.8" y="118.4" width="1262.6" height="988.0" fill="none" stroke="#1c1c1c" stroke-width="2.6"/>
<line x1="152.6" y1="1106.4" x2="152.6" y2="1118.4" stroke="#1c1c1c" stroke-width="2.6"/>
<line x1="296.4" y1="1106.4" x2="296.4" y2="1118.4" stroke="#1c1c1c" stroke-width="2.6"/>
<line x1="440.1" y1="1106.4" x2="440.1" y2="1118.4" stroke="#1c1c1c" stroke-width="2.6"/>
<line x1="583.8" y1="1106.4" x2="583.8" y2="1118.4" stroke="#1c1c1c" stroke-width="2.6"/>
<line x1="727.6" y1="1106.4" x2="727.6" y2="1118.4" stroke="#1c1c1c" stroke-width="2.6"/>
<line x1="871.4" y1="1106.4" x2="871.4" y2="1118.4" stroke="#1c1c1c" stroke-width="2.6"/>
<line x1="1015.1" y1="1106.4" x2="1015.1" y2="1118.4" stroke="#1c1c1c" stroke-width="2.6"/>
<line x1="1158.8" y1="1106.4" x2="1158.8" y2="1118.4" stroke="#1c1c1c" stroke-width="2.6"/>
<line x1="1302.6" y1="1106.4" x2="1302.6" y2="1118.4" stroke="#1c1c1c" stroke-width="2.6"/>
<line x1="85.3" y1="1106.4" x2="95.8" y2="1106.4" stroke="#1c1c1c" stroke-width="2.6"/>
<line x1="85.3" y1="909.4" x2="95.8" y2="909.4" stroke="#1c1c1c" stroke-width="2.6"/>
<line x1="85.3" y1="709.3" x2="95.8" y2="709.3" stroke="#1c1c1c" stroke-width="2.6"/>
<line x1="85.3" y1="512.5" x2="95.8" y2="512.5" stroke="#1c1c1c" stroke-width="2.6"/>
<line x1="85.3" y1="315.4" x2="95.8" y2="315.4" stroke="#1c1c1c" stroke-width="2.6"/>
<line x1="85.3" y1="118.5" x2="95.8" y2="118.5" stroke="#1c1c1c" stroke-width="2.6"/>
<text x="153.50" y="1149.4" font-size="31.8" text-anchor="middle">0</text>
<text x="295.00" y="1149.4" font-size="31.8" text-anchor="middle">250</text>
<text x="439.50" y="1149.4" font-size="31.8" text-anchor="middle">500</text>
<text x="583.30" y="1149.4" font-size="31.8" text-anchor="middle">750</text>
<text x="725.20" y="1149.4" font-size="31.8" text-anchor="middle">1000</text>
<text x="869.20" y="1149.4" font-size="31.8" text-anchor="middle">1250</text>
<text x="1010.40" y="1149.4" font-size="31.8" text-anchor="middle">1500</text>
<text x="1154.40" y="1149.4" font-size="31.8" text-anchor="middle">1750</text>
<text x="1300.50" y="1149.4" font-size="31.8" text-anchor="middle">2000</text>
<text x="53.40" y="1116.00" font-size="31.8" text-anchor="middle">0.0</text>
<text x="52.50" y="918.50" font-size="31.8" text-anchor="middle">0.2</text>
<text x="53.50" y="721.80" font-size="31.8" text-anchor="middle">0.4</text>
<text x="53.90" y="524.60" font-size="31.8" text-anchor="middle">0.6</text>
<text x="53.60" y="324.60" font-size="31.8" text-anchor="middle">0.8</text>
<text x="51.20" y="127.80" font-size="31.8" text-anchor="middle">1.0</text>
<text x="0" y="53.2" font-size="37.8" text-anchor="middle" transform="translate(724.2 0) scale(1.0116 1)">Loss: 0.111, Accuracy: 0.962</text>
<text x="0" y="98.4" font-size="37.8" text-anchor="middle" transform="translate(724.6 0) scale(0.9815 1)">Val<tspan dy="3">_</tspan><tspan dy="-3">Loss: 0.125, Val</tspan><tspan dy="3">_</tspan><tspan dy="-3">Accuracy: 0.944</tspan></text>
<rect x="1059.5" y="512.5" width="285" height="196.5" rx="4" ry="4" fill="#fff" fill-opacity="0.8" stroke="#d4d4d4" stroke-width="2.7"/>
<line x1="1066.2" y1="538.1" x2="1128.4" y2="538.1" stroke="#1f77b4" stroke-width="5" stroke-opacity="0.78"/>
<text x="1149" y="550.3" font-size="31">loss</text>
<line x1="1066.2" y1="583.5" x2="1128.4" y2="583.5" stroke="#ff7f0e" stroke-width="5" stroke-opacity="0.78"/>
<text x="1149" y="595.6" font-size="31">accuracy</text>
<line x1="1066.2" y1="628.9" x2="1128.4" y2="628.9" stroke="#2ca02c" stroke-width="5" stroke-opacity="0.78"/>
<text x="1149" y="643.8" font-size="31">val<tspan dy="3.5">_</tspan><tspan dy="-3.5">loss</tspan></text>
<line x1="1066.2" y1="677.6" x2="1128.4" y2="677.6" stroke="#d62728" stroke-width="5" stroke-opacity="0.78"/>
<text x="1149" y="692.4" font-size="31">val<tspan dy="3.5">_</tspan><tspan dy="-3.5">accuracy</tspan></text>
</svg></body></html>
